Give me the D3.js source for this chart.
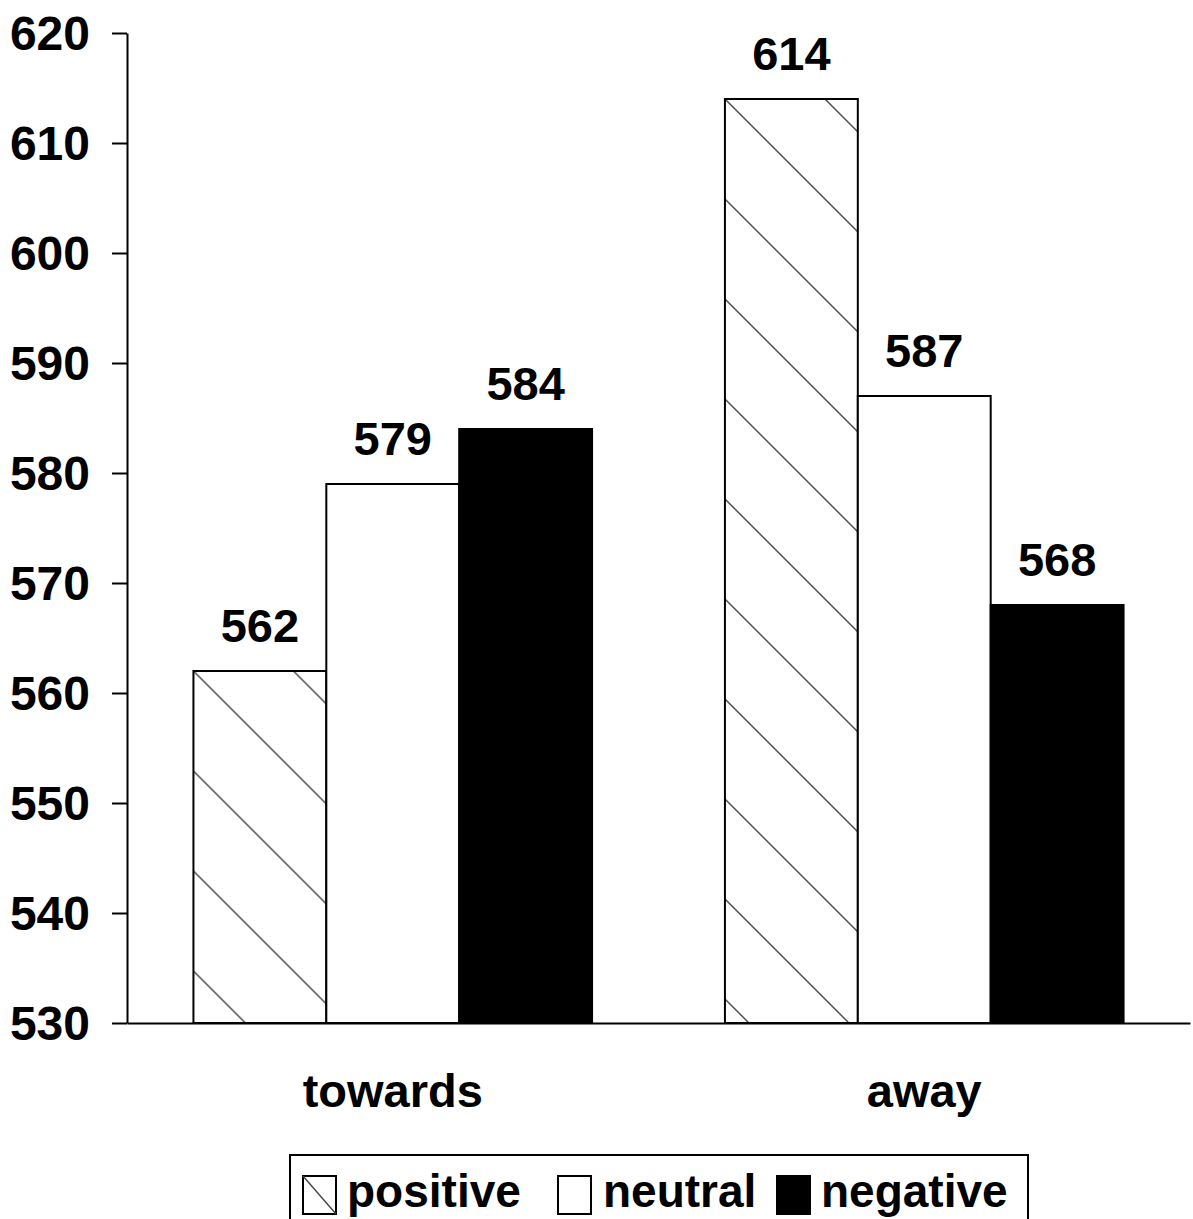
<!DOCTYPE html>
<html>
<head>
<meta charset="utf-8">
<script src="https://cdn.jsdelivr.net/npm/d3@7"></script>
<style>
  html, body { margin: 0; padding: 0; background: #fff; }
  svg { display: block; }
  text { font-family: "Liberation Sans", Arial, Helvetica, sans-serif; font-weight: bold; fill: #000; }
</style>
</head>
<body>
<script>
const categories = ["towards", "away"];
const seriesNames = ["positive", "neutral", "negative"];
const positiveValues = [562, 614];
const neutralValues = [579, 587];
const negativeValues = [584, 568];
const yTicks = [530, 540, 550, 560, 570, 580, 590, 600, 610, 620];

const W = 1193, H = 1219;
const svg = d3.select("body").append("svg").attr("width", W).attr("height", H);
svg.append("rect").attr("width", W).attr("height", H).attr("fill", "#fff");

const y = d3.scaleLinear().domain([530, 620]).range([1023, 33]);
const x0 = d3.scaleBand().domain(categories).range([127, 1190]).paddingInner(0).paddingOuter(0);
const x1 = d3.scaleBand().domain(seriesNames).range([0, x0.bandwidth()]).paddingInner(0).paddingOuter(0.5);

const seriesValues = { positive: positiveValues, neutral: neutralValues, negative: negativeValues };
const fills = { positive: "hatch", neutral: "#fff", negative: "#000" };

const defs = svg.append("defs");

const data = [];
categories.forEach((c, i) => {
  seriesNames.forEach(s => data.push({ cat: c, series: s, value: seriesValues[s][i], idx: data.length }));
});

// hatch patterns anchored at each bar's top-left corner
data.filter(d => d.series === "positive").forEach(d => {
  const bx = x0(d.cat) + x1(d.series);
  const by = y(d.value);
  const p = defs.append("pattern")
    .attr("id", "hatch" + d.idx)
    .attr("patternUnits", "userSpaceOnUse")
    .attr("x", bx).attr("y", by)
    .attr("width", 100).attr("height", 100);
  p.append("rect").attr("width", 100).attr("height", 100).attr("fill", "#fff");
  p.append("path").attr("d", "M0,0L100,100M-10,90L10,110M90,-10L110,10")
    .attr("stroke", "#444").attr("stroke-width", 1.4).attr("fill", "none");
});

// bars
svg.append("g").selectAll("rect").data(data).join("rect")
  .attr("x", d => x0(d.cat) + x1(d.series))
  .attr("y", d => y(d.value))
  .attr("width", x1.bandwidth())
  .attr("height", d => y(530) - y(d.value))
  .attr("fill", d => fills[d.series] === "hatch" ? `url(#hatch${d.idx})` : fills[d.series])
  .attr("stroke", "#000").attr("stroke-width", 2);

// value labels
svg.append("g").selectAll("text").data(data).join("text")
  .attr("x", d => x0(d.cat) + x1(d.series) + x1.bandwidth() / 2)
  .attr("y", d => y(d.value) - 29)
  .attr("text-anchor", "middle")
  .attr("font-size", 47)
  .text(d => d.value);

// y axis
const yAxis = d3.axisLeft(y).tickValues(yTicks).tickSize(15).tickSizeOuter(0).tickPadding(22);
const gy = svg.append("g").attr("transform", "translate(127,0)").call(yAxis);
gy.select(".domain").attr("stroke", "#000").attr("stroke-width", 2);
gy.selectAll(".tick line").attr("stroke", "#000").attr("stroke-width", 2);
gy.selectAll(".tick text").attr("font-size", 48).attr("font-family", null).attr("dy", "0.34em").attr("fill", "#000");

// x axis
const xAxis = d3.axisBottom(x0).tickSize(0).tickSizeOuter(0).tickPadding(0);
const gx = svg.append("g").attr("transform", `translate(0,${y(530)})`).call(xAxis);
gx.select(".domain").attr("stroke", "#000").attr("stroke-width", 2);
gx.selectAll(".tick text").attr("font-size", 47).attr("font-family", null).attr("dy", null).attr("y", 84).attr("fill", "#000");

// legend
const lg = svg.append("g");
lg.append("rect").attr("x", 290).attr("y", 1155).attr("width", 738).attr("height", 100)
  .attr("fill", "#fff").attr("stroke", "#000").attr("stroke-width", 2);
const legendItems = [
  { name: "positive", sx: 303, tx: 347 },
  { name: "neutral", sx: 558, tx: 603 },
  { name: "negative", sx: 777, tx: 821 }
];
legendItems.forEach(it => {
  lg.append("rect").attr("x", it.sx).attr("y", 1176).attr("width", 33).attr("height", 38)
    .attr("fill", fills[it.name] === "hatch" ? "#fff" : fills[it.name])
    .attr("stroke", "#000").attr("stroke-width", 2);
  if (fills[it.name] === "hatch") {
    lg.append("line").attr("x1", it.sx).attr("y1", 1176).attr("x2", it.sx + 33).attr("y2", 1214)
      .attr("stroke", "#444").attr("stroke-width", 1.4);
  }
  lg.append("text").attr("x", it.tx).attr("y", 1207).attr("font-size", 46).text(it.name);
});
</script>
</body>
</html>
